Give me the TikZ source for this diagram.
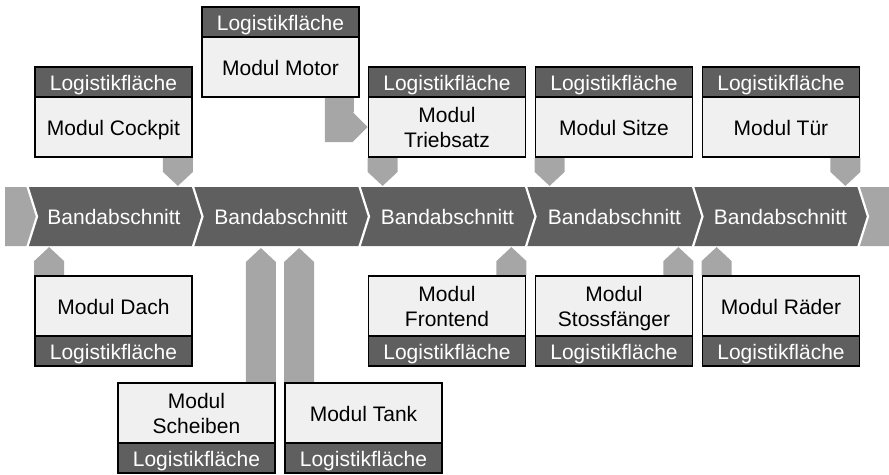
\documentclass[tikz,border=0pt]{standalone}
\usepackage{fontspec}
\setmainfont{Liberation Sans}
\usetikzlibrary{calc,backgrounds}
\definecolor{darkgrey}{HTML}{5F5F5F}
\definecolor{lightgrey}{HTML}{A6A6A6}
\definecolor{boxfill}{HTML}{F0F0F0}

\begin{document}
\begin{tikzpicture}[x=1pt,y=-1pt,
  lbl/.style={font=\fontsize{21}{25}\selectfont},
  oneline/.style={text height=19pt,text depth=3pt},
  twoline/.style={text height=44pt,text depth=3pt},
  modbody/.style={draw=black,line width=1.8pt,fill=boxfill,minimum width=157pt,
    minimum height=60pt,inner sep=0pt,align=center,lbl},
  modhead/.style={draw=black,line width=1.8pt,fill=darkgrey,text=white,
    minimum width=157pt,minimum height=30pt,inner sep=0pt,lbl,oneline},
  segtext/.style={text=white,inner sep=0pt,lbl,oneline},
  ptr/.style={fill=lightgrey},
  sepline/.style={draw=white,line width=2.2pt}
]
\useasboundingbox (0,0) rectangle (889,474);

% ---- assembly line band ----
\fill[lightgrey] (5,187) -- (27,187) -- (37,216.5) -- (27,246) -- (5,246) -- cycle;
\fill[darkgrey] (27,187) -- (858,187) -- (868,216.5) -- (858,246) -- (27,246) -- (37,216.5) -- cycle;
\fill[lightgrey] (858,187) -- (889,187) -- (889,246) -- (858,246) -- (868,216.5) -- cycle;
\foreach \s in {27,192.5,359,525.5,692.5,858}
  \draw[sepline] (\s,185) -- (\s+10,216.5) -- (\s,248);

\node[segtext] (band1) at (114,216.5) {Bandabschnitt};
\node[segtext] (band2) at (281,216.5) {Bandabschnitt};
\node[segtext] (band3) at (447.5,216.5) {Bandabschnitt};
\node[segtext] (band4) at (614.5,216.5) {Bandabschnitt};
\node[segtext] (band5) at (780.5,216.5) {Bandabschnitt};

% ---- modules above the band ----
\node[modhead] (cockpitH) at (113.5,82) {Logistikfläche};
\node[modbody,oneline] (cockpit) at (113.5,127) {Modul Cockpit};

\node[modhead] (motorH) at (280.5,22) {Logistikfläche};
\node[modbody,oneline] (motor) at (280.5,67) {Modul Motor};

\node[modhead] (triebH) at (447,82) {Logistikfläche};
\node[modbody,twoline] (trieb) at (447,127) {Modul\\Triebsatz};

\node[modhead] (sitzeH) at (614,82) {Logistikfläche};
\node[modbody,oneline] (sitze) at (614,127) {Modul Sitze};

\node[modhead] (tuerH) at (781,82) {Logistikfläche};
\node[modbody,oneline] (tuer) at (781,127) {Modul Tür};

% ---- modules below the band ----
\node[modbody,oneline] (dach) at (113.5,306) {Modul Dach};
\node[modhead] (dachH) at (113.5,351) {Logistikfläche};

\node[modbody,twoline] (front) at (447,306) {Modul\\Frontend};
\node[modhead] (frontH) at (447,351) {Logistikfläche};

\node[modbody,twoline] (stoss) at (614,306) {Modul\\Stossfänger};
\node[modhead] (stossH) at (614,351) {Logistikfläche};

\node[modbody,oneline] (raeder) at (781,306) {Modul Räder};
\node[modhead] (raederH) at (781,351) {Logistikfläche};

\node[modbody,twoline] (scheiben) at (196.5,413) {Modul\\Scheiben};
\node[modhead] (scheibenH) at (196.5,458) {Logistikfläche};

\node[modbody,oneline] (tank) at (363.5,413) {Modul Tank};
\node[modhead] (tankH) at (363.5,458) {Logistikfläche};

\coordinate (shoulder) at (0,262);

% ---- supply arrows ----
\begin{pgfonlayer}{background}
  % down into the band
  \fill[ptr] (cockpit.south east) -- ++(0,14) -- ++(-15,14) -- ++(-15,-14) -- ++(0,-14) -- cycle;
  \fill[ptr] (trieb.south west) -- ++(0,14) -- ++(15,14) -- ++(15,-14) -- ++(0,-14) -- cycle;
  \fill[ptr] (sitze.south west) -- ++(0,14) -- ++(15,14) -- ++(15,-14) -- ++(0,-14) -- cycle;
  \fill[ptr] (tuer.south east) -- ++(0,14) -- ++(-15,14) -- ++(-15,-14) -- ++(0,-14) -- cycle;
  % motor feeds the drivetrain module
  \fill[ptr] ($(motor.south east)+(-35,0)$) coordinate (m1)
    -- ($(motor.south east)+(-6,0)$) |- ($(trieb.west)+(-15,-15)$)
    -- (trieb.west) -- ($(trieb.west)+(-15,15)$) -| (m1) -- cycle;
  % up into the band
  \fill[ptr] (dach.north west) -- ++(0,-14) -- ++(15,-14) -- ++(15,14) -- ++(0,14) -- cycle;
  \fill[ptr] (front.north east) -- ++(0,-14) -- ++(-15,-14) -- ++(-15,14) -- ++(0,14) -- cycle;
  \fill[ptr] (stoss.north east) -- ++(0,-14) -- ++(-15,-14) -- ++(-15,14) -- ++(0,14) -- cycle;
  \fill[ptr] (raeder.north west) -- ++(0,-14) -- ++(15,-14) -- ++(15,14) -- ++(0,14) -- cycle;
  \fill[ptr] (scheiben.north east) -- (scheiben.north east |- shoulder) -- ++(-15,-14)
    -- ++(-15,14) -- ($(scheiben.north east)+(-30,0)$) -- cycle;
  \fill[ptr] (tank.north west) -- (tank.north west |- shoulder) -- ++(15,-14)
    -- ++(15,14) -- ($(tank.north west)+(30,0)$) -- cycle;
\end{pgfonlayer}
\end{tikzpicture}
\end{document}
